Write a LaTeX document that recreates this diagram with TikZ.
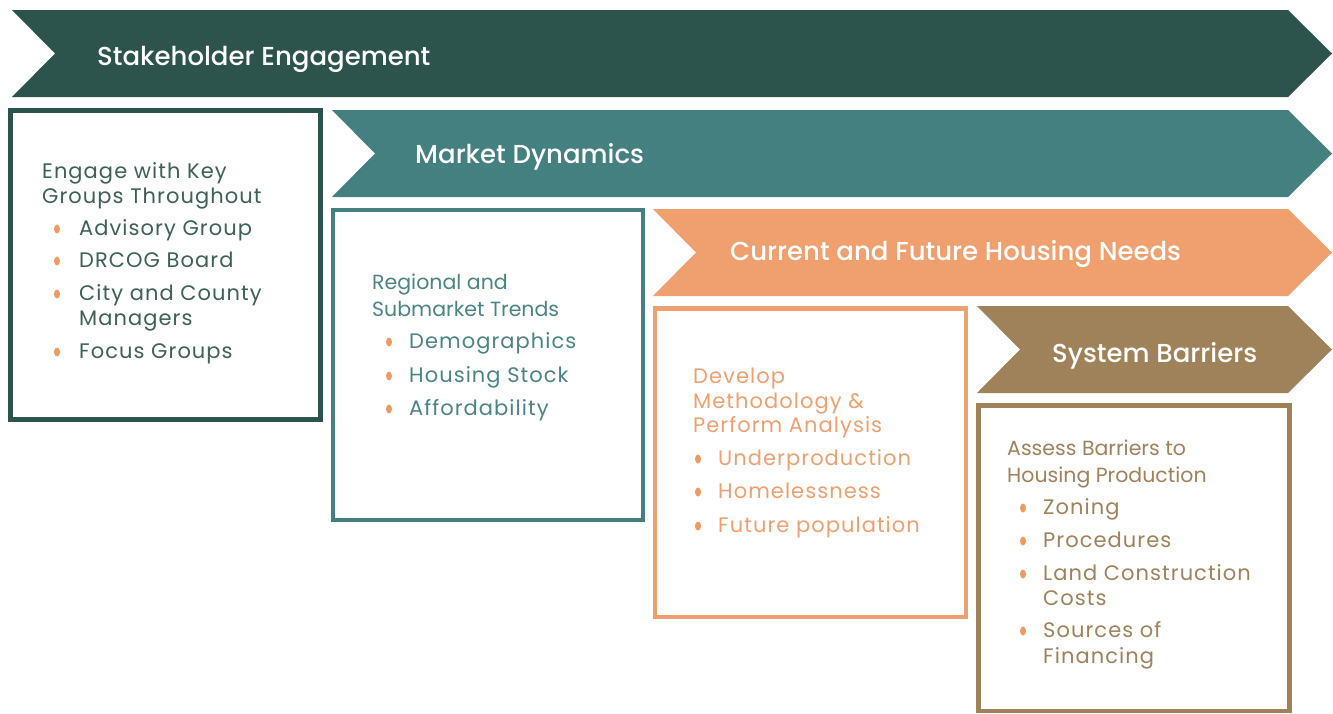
\documentclass[tikz,border=0pt]{standalone}
\usepackage{fontspec}
\setmainfont{Poppins}
\newfontfamily\headfont{Poppins Medium}
\newfontfamily\bodyfont{Poppins}[LetterSpace=5]
\usetikzlibrary{shapes.geometric}

\definecolor{pine}{HTML}{2C544D}
\definecolor{pinetext}{HTML}{3D6058}
\definecolor{sea}{HTML}{43807F}
\definecolor{seatext}{HTML}{4A8584}
\definecolor{peach}{HTML}{EFA06E}
\definecolor{bronze}{HTML}{A0825A}
\definecolor{bulc}{HTML}{EE9A62}

\tikzset{
  head/.style={font=\headfont\fontsize{26}{30}\selectfont, text=white, anchor=base west, inner sep=0pt},
  txt/.style={font=\bodyfont\fontsize{21}{24}\selectfont, anchor=base west, inner sep=0pt},
  lead/.style={font=\fontsize{20.5}{24}\selectfont, anchor=base west, inner sep=0pt},
  bul/.style={ellipse, fill=bulc, minimum width=6pt, minimum height=9pt, inner sep=0pt},
  frame/.style={line width=4.5pt},
}

% chevron band: left, top, colour
\newcommand{\chevron}[3]{%
  \fill[#3] (#1,#2) -- (1288,#2) -- (1332,#2+43.5) -- (1288,#2+87) -- (#1,#2+87) -- (#1+43,#2+43.5) -- cycle;}

\begin{document}
\begin{tikzpicture}[x=1pt, y=-1pt]

    \useasboundingbox (0,0) rectangle (1333,713);

    \chevron{12}{10}{pine}
    \chevron{332}{110}{sea}
    \chevron{653}{209}{peach}
    \chevron{977}{306}{bronze}

    \node[head] (se) at (97,65) {Stakeholder Engagement};
    \node[head] (md) at (415,163) {Market Dynamics};
    \node[head] (cf) at (730,260) {Current and Future Housing Needs};
    \node[head] (sb) at (1052,362) {System Barriers};

    \draw[frame, pine] (10.5,110.5) rectangle (320.5,419.5);
    \draw[frame, sea, line width=4pt] (332.5,209.5) rectangle (642.5,519.5);
    \draw[frame, peach] (655,308.5) rectangle (966,617);
    \draw[frame, bronze] (978.5,405.5) rectangle (1289.5,711);

    % stakeholder box
    \node[txt, text=pinetext] (eng1) at (42,178) {Engage with Key};
    \node[txt, text=pinetext] (eng2) at (42,203) {Groups Throughout};
    \node[bul] (eb1) at (57,229) {};
    \node[bul] (eb2) at (57,261) {};
    \node[bul] (eb3) at (57,294) {};
    \node[bul] (eb4) at (57,352) {};
    \node[txt, text=pinetext] (ei1) at (79,235) {Advisory Group};
    \node[txt, text=pinetext] (ei2) at (79,267) {DRCOG Board};
    \node[txt, text=pinetext] (ei3) at (79,300) {City and County};
    \node[txt, text=pinetext] (ei3b) at (79,325) {Managers};
    \node[txt, text=pinetext] (ei4) at (79,358) {Focus Groups};

    % market box
    \node[lead, text=seatext] (mkt1) at (372,289) {Regional and};
    \node[lead, text=seatext] (mkt2) at (372,316) {Submarket Trends};
    \node[bul] (mb1) at (389,342) {};
    \node[bul] (mb2) at (389,376) {};
    \node[bul] (mb3) at (389,409) {};
    \node[txt, text=seatext] (mi1) at (409,348) {Demographics};
    \node[txt, text=seatext] (mi2) at (409,382) {Housing Stock};
    \node[txt, text=seatext] (mi3) at (409,415) {Affordability};

    % housing needs box
    \node[txt, text=peach] (dev1) at (693,383) {Develop};
    \node[txt, text=peach] (dev2) at (693,408) {Methodology \&};
    \node[txt, text=peach] (dev3) at (693,432) {Perform Analysis};
    \node[bul] (db1) at (698,459) {};
    \node[bul] (db2) at (698,492) {};
    \node[bul] (db3) at (698,526) {};
    \node[txt, text=peach] (di1) at (718,465) {Underproduction};
    \node[txt, text=peach] (di2) at (718,498) {Homelessness};
    \node[txt, text=peach] (di3) at (718,532) {Future population};

    % barriers box
    \node[lead, text=bronze] (bar1) at (1007,455) {Assess Barriers to};
    \node[lead, text=bronze] (bar2) at (1007,482) {Housing Production};
    \node[bul] (bb1) at (1023,508) {};
    \node[bul] (bb2) at (1023,541) {};
    \node[bul] (bb3) at (1023,574) {};
    \node[bul] (bb4) at (1023,631) {};
    \node[txt, text=bronze] (bi1) at (1043,514) {Zoning};
    \node[txt, text=bronze] (bi2) at (1043,547) {Procedures};
    \node[txt, text=bronze] (bi3) at (1043,580) {Land Construction};
    \node[txt, text=bronze] (bi3b) at (1043,605) {Costs};
    \node[txt, text=bronze] (bi4) at (1043,637) {Sources of};
    \node[txt, text=bronze] (bi4b) at (1043,663) {Financing};

\end{tikzpicture}
\end{document}
